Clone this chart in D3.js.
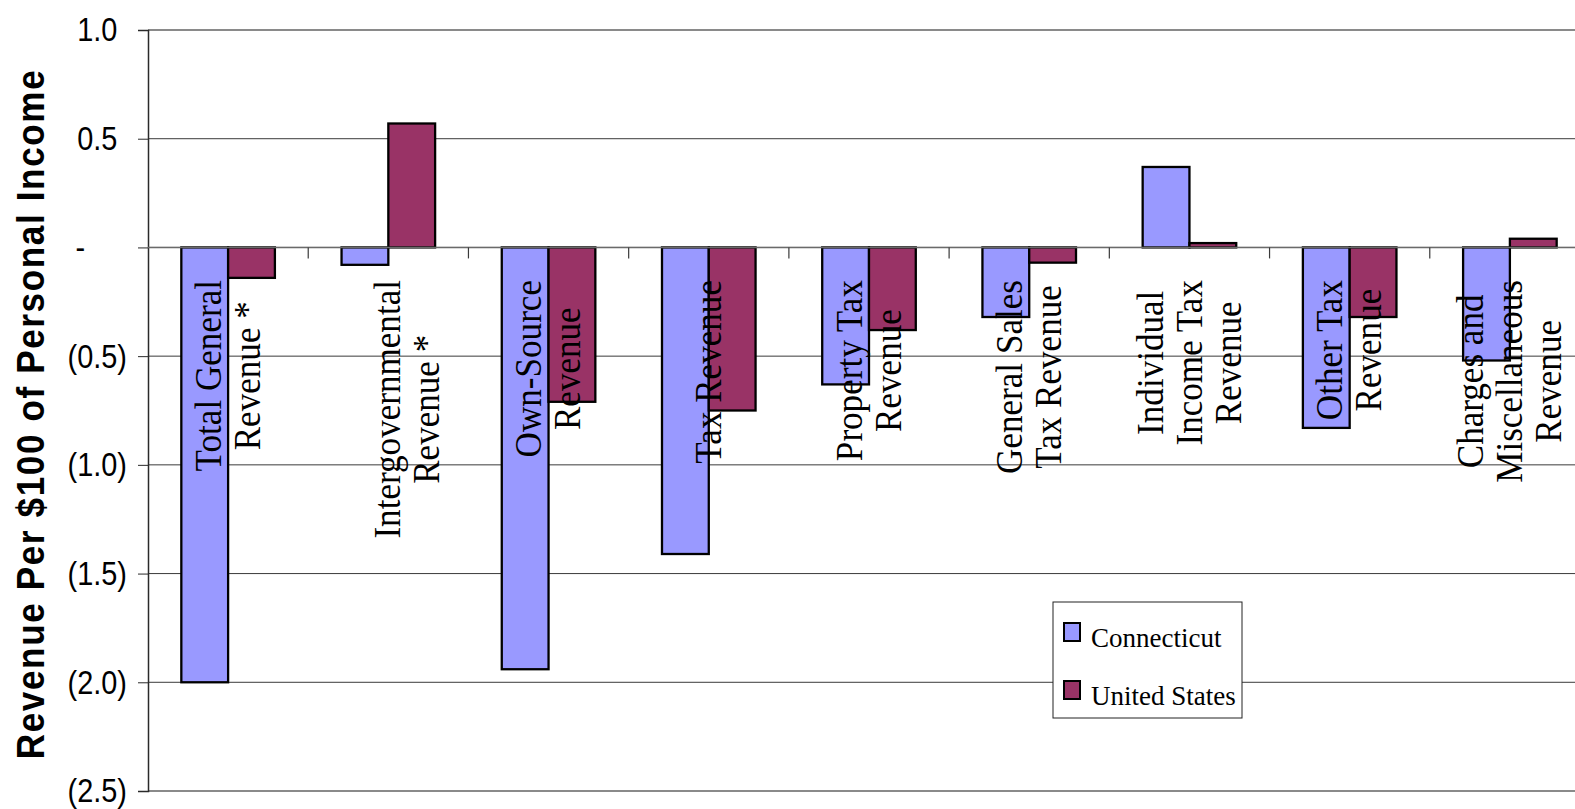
<!DOCTYPE html>
<html>
<head>
<meta charset="utf-8">
<script src="https://cdn.jsdelivr.net/npm/d3@7"></script>
<style>
  html, body { margin: 0; padding: 0; background: #ffffff; }
  svg { display: block; }
</style>
</head>
<body>
<svg id="chart" width="1575" height="809"></svg>
<script>
// Difference from the national average, per $100 of personal income
const categories = [
  "Total General Revenue *",
  "Intergovernmental Revenue *",
  "Own-Source Revenue",
  "Tax Revenue",
  "Property Tax Revenue",
  "General Sales Tax Revenue",
  "Individual Income Tax Revenue",
  "Other Tax Revenue",
  "Charges and Miscellaneous Revenue"
];
// Wrapped category labels, one entry per line
const categoryLines = [
  ["Total General", "Revenue *"],
  ["", "Intergovernmental", "Revenue *"],
  ["Own-Source", "Revenue"],
  ["Tax Revenue"],
  ["Property Tax", "Revenue"],
  ["General Sales", "Tax Revenue"],
  ["Individual", "Income Tax", "Revenue"],
  ["Other Tax", "Revenue"],
  ["Charges and", "Miscellaneous", "Revenue"]
];
const seriesNames = ["Connecticut", "United States"];
const connecticut  = [-2.00, -0.08, -1.94, -1.41, -0.63, -0.32, 0.37, -0.83, -0.52];
const unitedStates = [-0.14,  0.57, -0.71, -0.75, -0.38, -0.07, 0.02, -0.32,  0.04];
const seriesColors = ["#9999FF", "#993366"];
const yTicks = [1.0, 0.5, 0, -0.5, -1.0, -1.5, -2.0, -2.5];
const yTickLabels = ["1.0", "0.5", "-", "(0.5)", "(1.0)", "(1.5)", "(2.0)", "(2.5)"];
const yTitle = "Revenue Per $100 of Personal Income";

const svg = d3.select("#chart");
const plot = { left: 148, right: 1590, top: 30, bottom: 791 };

const x0 = d3.scaleBand()
  .domain(categories)
  .range([plot.left, plot.right])
  .paddingInner(0.416)
  .paddingOuter(0.208);
const x1 = d3.scaleBand()
  .domain(seriesNames)
  .range([0, x0.bandwidth()]);
const y = d3.scaleLinear()
  .domain([-2.5, 1.0])
  .range([plot.bottom, plot.top]);

// Horizontal gridlines
svg.append("g")
  .selectAll("line")
  .data(yTicks)
  .join("line")
  .attr("x1", plot.left)
  .attr("x2", plot.right)
  .attr("y1", d => y(d))
  .attr("y2", d => y(d))
  .attr("stroke", d => (d === 1.0 || d === -2.5) ? "#8a8a8a" : "#3a3a3a")
  .attr("stroke-width", d => (d === 1.0 || d === -2.5) ? 2 : 1);

// Left value axis
const tickFont = 34;
const tickScale = 0.85;
const yAxis = svg.append("g")
  .attr("transform", `translate(${plot.left},0)`)
  .call(d3.axisLeft(y)
    .tickValues(yTicks)
    .tickSize(10)
    .tickFormat((d, i) => yTickLabels[i]));
yAxis.select(".domain").attr("stroke", "#2a2a2a").attr("stroke-width", 1.5);
yAxis.selectAll(".tick line").attr("stroke", "#2a2a2a");

// Accounting-style alignment: positive values leave room for ")" and zero shows "-"
const measure = svg.append("text")
  .attr("font-family", "'Liberation Sans', Arial, sans-serif")
  .attr("font-size", tickFont);
measure.text(")");
const parenW = measure.node().getComputedTextLength();
measure.text("00");
const digitsW = measure.node().getComputedTextLength();
measure.remove();
yAxis.selectAll(".tick text")
  .attr("font-family", "'Liberation Sans', Arial, sans-serif")
  .attr("font-size", tickFont)
  .attr("fill", "#000")
  .attr("text-anchor", "end")
  .attr("x", 0)
  .attr("transform", function () {
    const t = d3.select(this).text();
    let xe = -21;
    if (t === "-") xe -= (parenW + digitsW) * tickScale;
    else if (!t.startsWith("(")) xe -= parenW * tickScale;
    return `translate(${xe},0) scale(${tickScale},1)`;
  });

// Bars
const groups = svg.append("g")
  .selectAll("g")
  .data(categories)
  .join("g")
  .attr("transform", d => `translate(${x0(d)},0)`);
groups.selectAll("rect")
  .data((d, i) => [
    { s: seriesNames[0], v: connecticut[i] },
    { s: seriesNames[1], v: unitedStates[i] }
  ])
  .join("rect")
  .attr("x", d => x1(d.s))
  .attr("width", x1.bandwidth())
  .attr("y", d => y(Math.max(0, d.v)))
  .attr("height", d => Math.abs(y(d.v) - y(0)))
  .attr("fill", (d, j) => seriesColors[j])
  .attr("stroke", "#000")
  .attr("stroke-width", 2.3);

// Category axis at zero with ticks between categories
const zeroY = y(0);
svg.append("line")
  .attr("x1", plot.left).attr("x2", plot.right)
  .attr("y1", zeroY).attr("y2", zeroY)
  .attr("stroke", "#6a6a6a").attr("stroke-width", 1.5);
const gap = (x0.step() - x0.bandwidth()) / 2;
svg.append("g")
  .selectAll("line")
  .data(categories.slice(1))
  .join("line")
  .attr("x1", d => x0(d) - gap)
  .attr("x2", d => x0(d) - gap)
  .attr("y1", zeroY)
  .attr("y2", zeroY + 11)
  .attr("stroke", "#3a3a3a")
  .attr("stroke-width", 1.2);

// Rotated category labels (slightly condensed along the reading direction)
const labelFont = 39;
const labelScale = 0.9;
const lineGap = 39;
const labelTop = 280;
const labelLayer = svg.append("g")
  .attr("font-family", "'Liberation Serif', 'Times New Roman', serif")
  .attr("font-size", labelFont)
  .attr("fill", "#000");
categories.forEach((c, i) => {
  const lines = categoryLines[i];
  const cx = x0(c) + x0.bandwidth() / 2;
  const texts = lines.map((ln, k) => {
    const bx = cx + (k - (lines.length - 1) / 2) * lineGap + labelFont * 0.31;
    return labelLayer.append("text")
      .attr("text-anchor", "middle")
      .text(ln)
      .datum(bx);
  });
  const maxLen = d3.max(texts, t => t.node().getComputedTextLength()) * labelScale;
  const cy = labelTop + maxLen / 2;
  texts.forEach(t => t.attr("transform",
    `translate(${t.datum()},${cy}) rotate(-90) scale(${labelScale},1)`));
});

// Value axis title
svg.append("text")
  .attr("transform", `translate(44,414) rotate(-90) scale(0.9,1)`)
  .attr("text-anchor", "middle")
  .attr("font-family", "'Liberation Sans', Arial, sans-serif")
  .attr("font-weight", "bold")
  .attr("font-size", 39)
  .attr("letter-spacing", 1.8)
  .attr("fill", "#000")
  .text(yTitle);

// Legend
const legend = svg.append("g").attr("transform", "translate(1053,602)");
legend.append("rect")
  .attr("width", 189).attr("height", 116)
  .attr("fill", "#fff").attr("stroke", "#222").attr("stroke-width", 1);
const items = legend.selectAll("g.item")
  .data(seriesNames)
  .join("g")
  .attr("class", "item")
  .attr("transform", (d, i) => `translate(11,${21 + i * 58})`);
items.append("rect")
  .attr("width", 16).attr("height", 18)
  .attr("fill", (d, i) => seriesColors[i])
  .attr("stroke", "#000").attr("stroke-width", 2);
items.append("text")
  .attr("x", 27).attr("y", 24)
  .attr("font-family", "'Liberation Serif', 'Times New Roman', serif")
  .attr("font-size", 27)
  .attr("fill", "#000")
  .text(d => d);
</script>
</body>
</html>
